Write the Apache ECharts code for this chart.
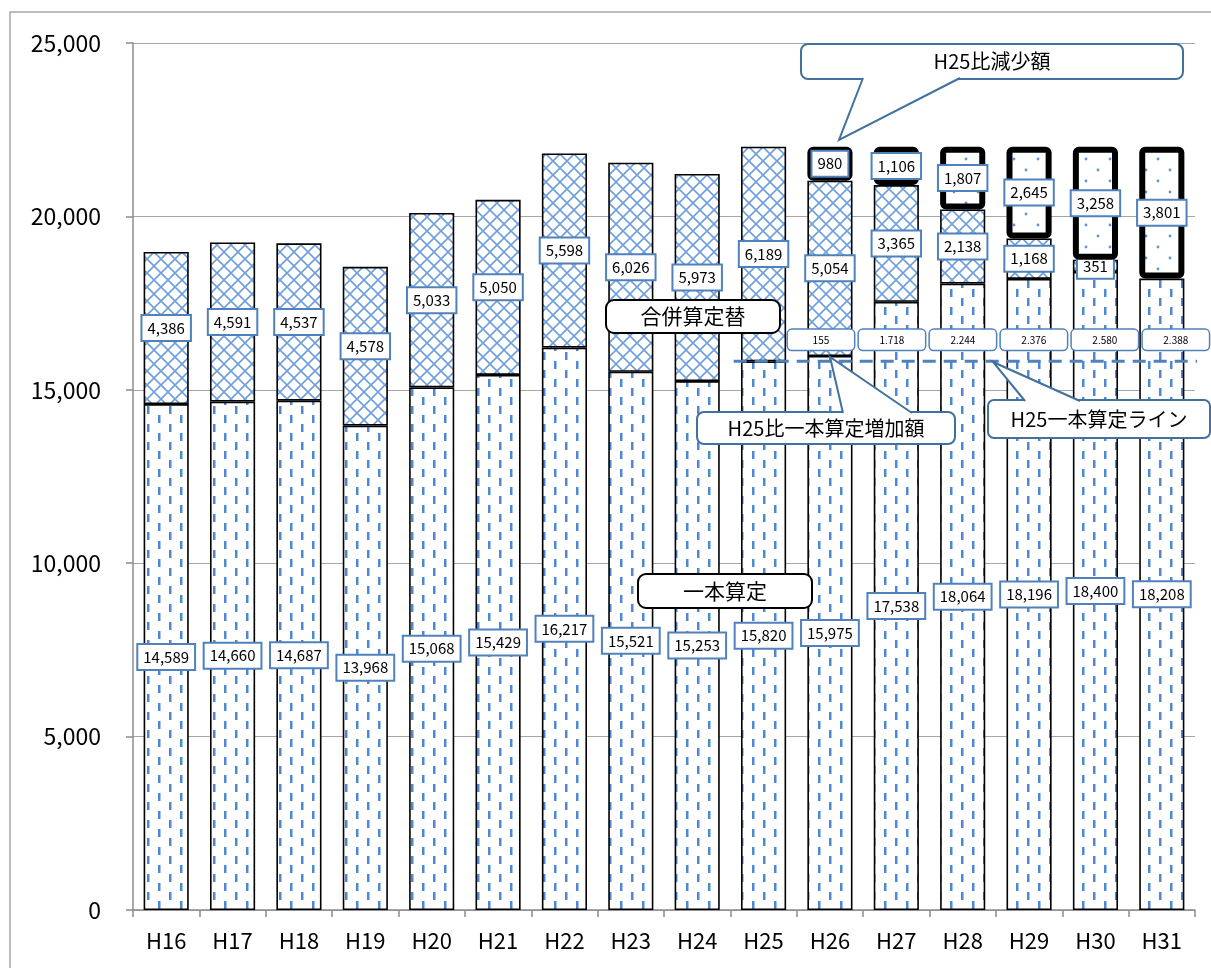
<!DOCTYPE html>
<html>
<head>
<meta charset="utf-8">
<script src="https://cdn.jsdelivr.net/npm/echarts@6/dist/echarts.min.js"></script>
<style>
  html, body { margin: 0; padding: 0; background: #fff; }
  #chart { width: 1211px; height: 968px; }
</style>
</head>
<body>
<div id="chart"></div>
<script>
// 年度
const categories = ['H16','H17','H18','H19','H20','H21','H22','H23','H24','H25','H26','H27','H28','H29','H30','H31'];
// 一本算定（百万円）
const ippon = [14589,14660,14687,13968,15068,15429,16217,15521,15253,15820,15975,17538,18064,18196,18400,18208];
// 合併算定替による加算分
const gappei = [4386,4591,4537,4578,5033,5050,5598,6026,5973,6189,5054,3365,2138,1168,351,null];
// H25比減少額
const genshou = [null,null,null,null,null,null,null,null,null,null,980,1106,1807,2645,3258,3801];
// H25比一本算定増加額（H26〜H31）
const zoukaYears = ['H26','H27','H28','H29','H30','H31'];
const zouka = [155,1718,2244,2376,2580,2388];
// H25一本算定ライン
const baseLine = ippon[categories.indexOf('H25')];
const yTicks = [0,5000,10000,15000,20000,25000];

const FONT = '"Noto Sans CJK JP", "Noto Sans", sans-serif';
const BLUE = '#4f81bd';

function makeTile(w, h, draw) {
  const c = document.createElement('canvas');
  c.width = w; c.height = h;
  const ctx = c.getContext('2d');
  ctx.fillStyle = '#fff';
  ctx.fillRect(0, 0, w, h);
  draw(ctx);
  return { image: c, repeat: 'repeat' };
}
// 縦破線パターン
const dashPattern = makeTile(22, 18, ctx => {
  ctx.fillStyle = '#4f88d2';
  ctx.fillRect(4, 1, 2.5, 8);
  ctx.fillRect(15, 10, 2.5, 8);
});
// 格子（斜線）パターン
const crossPattern = makeTile(14, 14, ctx => {
  ctx.strokeStyle = '#6f9fdc';
  ctx.lineWidth = 1.6;
  ctx.beginPath();
  ctx.moveTo(0, 0); ctx.lineTo(14, 14);
  ctx.moveTo(14, 0); ctx.lineTo(0, 14);
  ctx.stroke();
});
// ドットパターン
const dotPattern = makeTile(24, 22, ctx => {
  ctx.fillStyle = '#5f95d8';
  ctx.beginPath(); ctx.arc(6, 5, 1.4, 0, Math.PI * 2); ctx.fill();
  ctx.beginPath(); ctx.arc(18, 16, 1.4, 0, Math.PI * 2); ctx.fill();
});

const fmt = v => Number(v).toLocaleString('en-US');

const valueLabel = {
  show: true,
  position: 'inside',
  formatter: p => (p.value == null ? '' : fmt(p.value)),
  color: '#000',
  fontFamily: FONT,
  fontSize: 15,
  backgroundColor: '#fff',
  borderColor: BLUE,
  borderWidth: 2,
  padding: [5, 5, 4, 5]
};

// 吹き出し
function callout(opts) {
  const els = [];
  const { x, y, w, h, r, stroke, text, fontSize, pointer } = opts;
  els.push({ type: 'rect', z: 100, shape: { x, y, width: w, height: h, r }, style: { fill: '#fff', stroke, lineWidth: 2 } });
  if (pointer) {
    els.push({ type: 'polygon', z: 101, shape: { points: pointer }, style: { fill: '#fff', stroke: null } });
    els.push({ type: 'polyline', z: 102, shape: { points: pointer }, style: { fill: null, stroke, lineWidth: 2 } });
  }
  els.push({ type: 'text', z: 103, style: { text, x: x + w / 2, y: y + h / 2, align: 'center', verticalAlign: 'middle', textAlign: 'center', textVerticalAlign: 'middle', fill: '#000', font: fontSize + 'px ' + FONT } });
  return els;
}

const graphics = [].concat(
  [{ type: 'rect', z: 0, silent: true, shape: { x: 10, y: 12, width: 1400, height: 1100 }, style: { fill: null, stroke: '#a6a6a6', lineWidth: 1.5 } }],
  callout({ x: 801, y: 44, w: 382, h: 35, r: 7, stroke: '#41719c', text: 'H25比減少額', fontSize: 20,
            pointer: [[863, 78], [839, 140], [960, 78]] }),
  callout({ x: 606, y: 300, w: 174, h: 33, r: 8, stroke: '#000', text: '合併算定替', fontSize: 21 }),
  callout({ x: 638, y: 574, w: 174, h: 34, r: 8, stroke: '#000', text: '一本算定', fontSize: 21 }),
  callout({ x: 697, y: 412, w: 258, h: 32, r: 7, stroke: '#41719c', text: 'H25比一本算定増加額', fontSize: 20,
            pointer: [[843, 413], [830, 357], [912, 413]] }),
  callout({ x: 988, y: 400, w: 222, h: 38, r: 6, stroke: '#41719c', text: 'H25一本算定ライン', fontSize: 20,
            pointer: [[1025, 401], [993, 362], [1080, 401]] })
);

const chart = echarts.init(document.getElementById('chart'), null, { renderer: 'canvas' });
chart.setOption({
  animation: false,
  backgroundColor: '#fff',
  textStyle: { fontFamily: FONT },
  grid: { left: 133, right: 16, top: 43, bottom: 58, containLabel: false },
  xAxis: [
    {
      type: 'category',
      data: categories,
      axisLine: { lineStyle: { color: '#8c8c8c', width: 1.5 } },
      axisTick: { show: true, length: 7, lineStyle: { color: '#8c8c8c', width: 1.5 } },
      axisLabel: { color: '#000', fontSize: 22, margin: 20, fontFamily: FONT }
    },
    { type: 'value', min: 0, max: 16, show: false }
  ],
  yAxis: {
    type: 'value',
    min: yTicks[0],
    max: yTicks[yTicks.length - 1],
    interval: 5000,
    axisLine: { show: true, lineStyle: { color: '#8c8c8c', width: 1.5 } },
    axisTick: { show: true, length: 7, lineStyle: { color: '#8c8c8c', width: 1.5 } },
    splitLine: { lineStyle: { color: '#a6a6a6', width: 1.2 } },
    axisLabel: { color: '#000', fontSize: 23, margin: 32, fontFamily: FONT, formatter: v => fmt(v) }
  },
  graphic: graphics,
  series: [
    {
      name: '一本算定', type: 'bar', stack: 'total', barWidth: '68%',
      data: ippon,
      itemStyle: { color: dashPattern, borderColor: '#000', borderWidth: 1.6 },
      label: valueLabel, z: 2
    },
    {
      name: '合併算定替', type: 'bar', stack: 'total', barWidth: '68%',
      data: gappei,
      itemStyle: { color: crossPattern, borderColor: '#000', borderWidth: 1.6 },
      label: valueLabel, z: 2
    },
    {
      name: 'H25比減少額', type: 'bar', stack: 'total', barWidth: '68%',
      data: genshou,
      itemStyle: { color: dotPattern, borderColor: '#000', borderWidth: 6, borderRadius: 3 },
      label: valueLabel, z: 3
    },
    {
      name: 'H25一本算定ライン', type: 'line', xAxisIndex: 1, yAxisIndex: 0,
      data: [[9.05, baseLine], [16.25, baseLine]],
      symbol: 'none', clip: false, silent: true,
      lineStyle: { color: BLUE, width: 3, type: [13, 8] }, z: 4
    },
    {
      name: 'H25比一本算定増加額', type: 'scatter',
      data: zouka.map((v, i) => ({ value: [zoukaYears[i], 16440], amount: v, label: { offset: [-9 + i * 4.6, 0] } })),
      symbolSize: 1, itemStyle: { color: '#fff', opacity: 1 }, silent: true, z: 5,
      label: {
        show: true, position: 'inside', opacity: 1,
        formatter: p => fmt(p.data.amount).replace(/,/g, '.'),
        color: '#000', fontFamily: FONT, fontSize: 10,
        width: 62, height: 20, lineHeight: 20, align: 'center',
        backgroundColor: '#fff', borderColor: BLUE, borderWidth: 1.5, borderRadius: 4,
        padding: [0, 2, 0, 2]
      }
    }
  ]
});
</script>
</body>
</html>
